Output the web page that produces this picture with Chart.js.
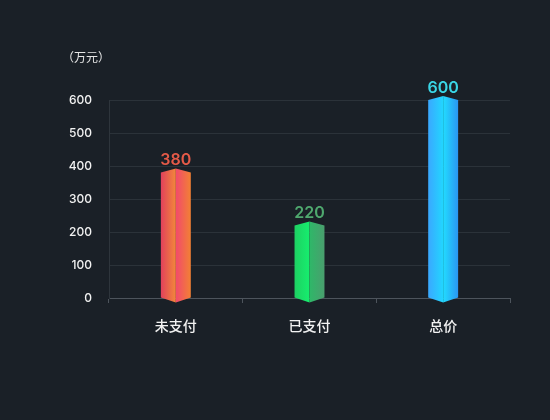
<!DOCTYPE html>
<html>
<head>
<meta charset="utf-8">
<script src="https://cdn.jsdelivr.net/npm/chart.js@4"></script>
<style>
  html, body { margin: 0; padding: 0; background: #1a2027; }
  #wrap { width: 550px; height: 420px; }
</style>
</head>
<body>
<div id="wrap"><canvas id="payChart"></canvas></div>
<script>
const categories = ["未支付", "已支付", "总价"];
const amounts = [380, 220, 600];
const yTicks = [0, 100, 200, 300, 400, 500, 600];
const unitLabel = "（万元）";

// colours per bar: [left face from, left face to, right face from, right face to, label]
const barColors = [
  ["#e2405c", "#f2883a", "#f24a6c", "#f28034", "#e55a48"],
  ["#1ed062", "#16ee6e", "#2eb868", "#4a9e6e", "#4fa86e"],
  ["#3aa8ff", "#22d6ff", "#22dcff", "#2a96f2", "#3ad6e6"]
];

const FONT = "Inter, 'Noto Sans CJK SC', sans-serif";

/* ================= PRISM BARS ================= */
const prismBars = {
  id: "prismBars",
  afterDatasetsDraw(chart) {
    const ctx = chart.ctx;
    const meta = chart.getDatasetMeta(0);
    meta.data.forEach((bar, i) => {
      const c = barColors[i];
      const half = bar.width / 2;
      const left = bar.x - half, right = bar.x + half;
      const top = bar.y, base = bar.base;
      const tip = 4;

      ctx.save();
      // left face
      let g = ctx.createLinearGradient(left, 0, bar.x, 0);
      g.addColorStop(0, c[0]);
      g.addColorStop(1, c[1]);
      ctx.fillStyle = g;
      ctx.beginPath();
      ctx.moveTo(left, top);
      ctx.lineTo(bar.x, top - tip);
      ctx.lineTo(bar.x, base + tip + 1);
      ctx.lineTo(left, base);
      ctx.closePath();
      ctx.fill();

      // right face
      g = ctx.createLinearGradient(bar.x, 0, right, 0);
      g.addColorStop(0, c[2]);
      g.addColorStop(1, c[3]);
      ctx.fillStyle = g;
      ctx.beginPath();
      ctx.moveTo(bar.x, top - tip);
      ctx.lineTo(right, top);
      ctx.lineTo(right, base);
      ctx.lineTo(bar.x, base + tip + 1);
      ctx.closePath();
      ctx.fill();

      // value label
      ctx.fillStyle = c[4];
      ctx.font = "600 16px " + FONT;
      ctx.textAlign = "center";
      ctx.textBaseline = "bottom";
      ctx.fillText(amounts[i], bar.x, top - 4);
      ctx.restore();
    });

    // unit caption above the y axis
    ctx.save();
    ctx.fillStyle = "#e6e6e6";
    ctx.font = "12px " + FONT;
    ctx.textAlign = "left";
    ctx.textBaseline = "middle";
    ctx.fillText(unitLabel, chart.chartArea.left - 47, 58);
    ctx.restore();
  }
};

new Chart(document.getElementById("payChart"), {
  type: "bar",
  data: {
    labels: categories,
    datasets: [{
      data: amounts,
      backgroundColor: "rgba(0,0,0,0)",
      barPercentage: 0.224,
      categoryPercentage: 1
    }]
  },
  options: {
    responsive: true,
    maintainAspectRatio: false,
    animation: false,
    layout: { padding: { left: 0, right: 40, top: 100, bottom: 0 } },
    plugins: {
      legend: { display: false },
      tooltip: { enabled: false }
    },
    scales: {
      x: {
        afterFit: s => { s.height = 122; },
        grid: {
          offset: true,
          drawOnChartArea: false,
          color: "#4d545c",
          tickLength: 5
        },
        border: { color: "#4d545c" },
        ticks: {
          color: "#f2f2f2",
          font: { family: FONT, size: 14, weight: 500 },
          padding: 15
        }
      },
      y: {
        min: yTicks[0],
        max: yTicks[yTicks.length - 1],
        afterFit: s => { s.width = 109; },
        afterBuildTicks: s => { s.ticks = yTicks.map(v => ({ value: v })); },
        grid: { color: "#2b3239", drawTicks: false },
        border: { color: "#2e353c" },
        ticks: {
          color: "#f2f2f2",
          font: { family: FONT, size: 12, weight: 500 },
          padding: 17
        }
      }
    }
  },
  plugins: [prismBars]
});
</script>
</body>
</html>
